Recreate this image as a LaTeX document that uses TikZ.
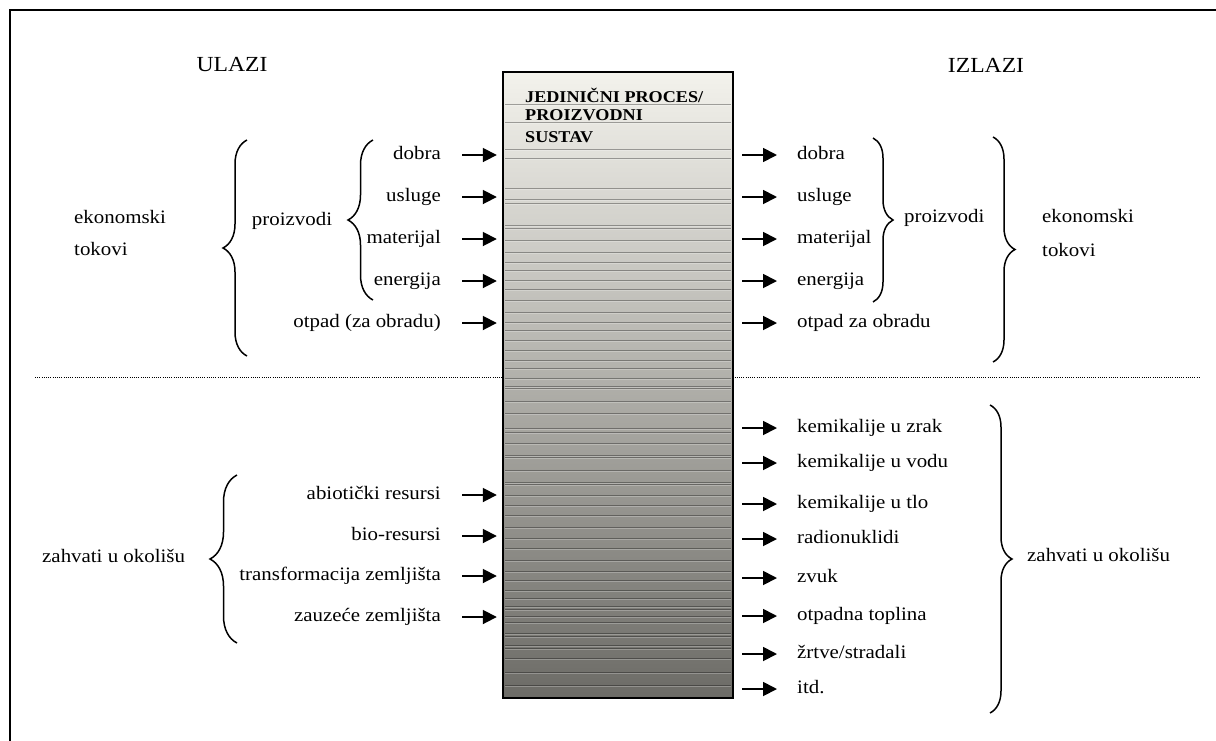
\documentclass[tikz,border=0pt]{standalone}
\usepackage{fontspec}
\setmainfont{Liberation Serif}[FakeStretch=1.1]
\usetikzlibrary{arrows.meta,decorations.pathreplacing}
\definecolor{boxtop}{HTML}{F3F2EC}
\definecolor{boxmid}{HTML}{C2C1B9}
\definecolor{boxbot}{HTML}{6C6B66}
\begin{document}
\begin{tikzpicture}[x=1pt,y=-1pt,
  lbl/.style={font=\fontsize{19}{22}\selectfont, inner sep=0pt, text height=13pt, text depth=4.5pt},
  hdr/.style={font=\fontsize{21.5}{24}\selectfont, inner sep=0pt},
  ttl/.style={font=\fontsize{16.5}{19}\selectfont\bfseries, inner sep=0pt, anchor=west},
  arr/.style={line width=1.8pt, -{Triangle[length=14pt,width=14pt]}},
  brc/.style={decorate, decoration={brace, amplitude=#1}, line width=1.5pt},
  stripe/.style={black, opacity=0.33, line width=1pt},
  glint/.style={white, opacity=0.25, line width=1pt}
]
\useasboundingbox (0,0) rectangle (1216,740);
% outer frame
\draw[line width=2pt] (10,760) -- (10,10) -- (1236,10);
% dotted separator
\coordinate (dl) at (35,377);
\coordinate (dr) at (1200,377);
\draw[line width=0.9pt, dash pattern=on 1pt off 1.2pt] (dl) -- (dr);
% central box
\node (box) [top color=boxtop, middle color=boxmid, bottom color=boxbot,
  minimum width=230pt, minimum height=626pt, inner sep=0pt] at (618,385) {};
\foreach \yy in {104,122,149,158,188,199,203,225,228,240,252,262,270,280,289,300,312,322,330,340,350,360,368,378,386,388,401,413,428,432,443,455,457,470,482,484,495,505,515,527,538,548,560,571,580,590,598,606,609,616,622,633,636,645,648,658,672,685}{
  \draw[stripe] (505,\yy) -- (731,\yy);
  \draw[glint] (505,\yy+1.5) -- (731,\yy+1.5);
}
\draw[line width=1.6pt] (box.north west) rectangle (box.south east);
\node[ttl] (t1) at (525,95) {JEDINIČNI PROCES/};
\node[ttl] (t2) at (525,115) {PROIZVODNI};
\node[ttl] (t3) at (525,137) {SUSTAV};
% headings
\node[hdr] (ulazi) at (232,65) {ULAZI};
\node[hdr] (izlazi) at (986,65) {IZLAZI};
% left inputs
\foreach \nm/\yy/\tx in {la/155/dobra, lb/197/usluge, lc/239/materijal, ld/281/energija, le/323/{otpad (za obradu)}, lf/495/{abiotički resursi}, lg/536/bio-resursi, lh/576/{transformacija zemljišta}, li/617/{zauzeće zemljišta}}{
  \node[lbl, anchor=east] (\nm) at (441,\yy) {\tx};
  \draw[arr] ([xshift=21pt]\nm.east) -- ([xshift=-6pt]box.west |- \nm.east);
}
% right outputs
\foreach \nm/\yy/\tx in {ra/155/dobra, rb/197/usluge, rc/239/materijal, rd/281/energija, re/323/{otpad za obradu}, rf/428/{kemikalije u zrak}, rg/463/{kemikalije u vodu}, rh/504/{kemikalije u tlo}, ri/539/radionuklidi, rj/578/zvuk, rk/616/{otpadna toplina}, rl/654/{žrtve/stradali}, rm/689/itd.}{
  \node[lbl, anchor=west] (\nm) at (797,\yy) {\tx};
  \draw[arr] ([xshift=9pt]box.east |- \nm.west) -- ([xshift=-20pt]\nm.west);
}
% group labels
\node[lbl] (lprod) at (292,221) {proizvodi};
\node[lbl, anchor=west] (lek1) at (74,219) {ekonomski};
\node[lbl, anchor=west] (lek2) at (74,251) {tokovi};
\node[lbl, anchor=west] (lzah) at (42,558) {zahvati u okolišu};
\node[lbl, anchor=west] (rprod) at (904,218) {proizvodi};
\node[lbl, anchor=west] (rek1) at (1042,218) {ekonomski};
\node[lbl, anchor=west] (rek2) at (1042,252) {tokovi};
\node[lbl, anchor=west] (rzah) at (1027,557) {zahvati u okolišu};
% braces
\draw[brc=25pt] (373,300) -- (373,140);
\draw[brc=24pt] (247,356) -- (247,140);
\draw[brc=27pt] (237,643) -- (237,475);
\draw[brc=20pt] (873,138) -- (873,302);
\draw[brc=22pt] (993,137) -- (993,362);
\draw[brc=22pt] (990,405) -- (990,713);
\end{tikzpicture}
\end{document}
